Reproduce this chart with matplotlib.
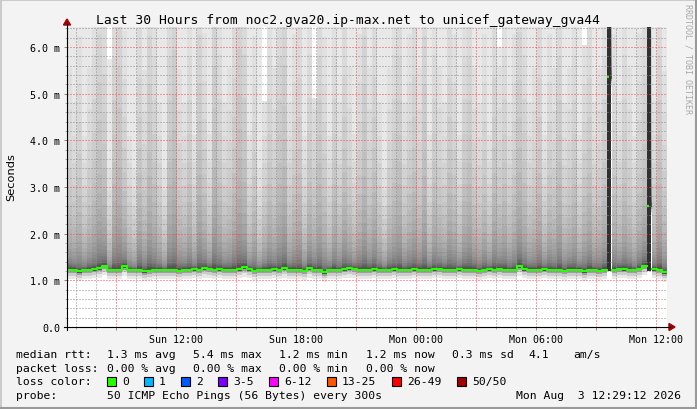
import numpy as np
import pandas as pd
import matplotlib
matplotlib.use('Agg')
import matplotlib.pyplot as plt
import matplotlib.dates as mdates
from matplotlib.ticker import MultipleLocator, FuncFormatter
from matplotlib.patches import Rectangle, Polygon
from matplotlib.lines import Line2D

W, H = 697, 410

# 30 hours in 15 minute columns
times = pd.date_range('2026-08-02 06:33', periods=120, freq='15min')
step = pd.Timedelta(minutes=15)

# median rtt per column (ms)
median_ms = [
    1.23, 1.23, 1.19, 1.22, 1.23, 1.24, 1.26, 1.31, 1.22, 1.23,
    1.22, 1.30, 1.22, 1.22, 1.23, 1.19, 1.21, 1.22, 1.23, 1.22,
    1.23, 1.22, 1.21, 1.23, 1.22, 1.24, 1.23, 1.26, 1.25, 1.23,
    1.24, 1.23, 1.22, 1.23, 1.24, 1.28, 1.24, 1.20, 1.22, 1.23,
    1.23, 1.24, 1.22, 1.26, 1.23, 1.23, 1.22, 1.21, 1.26, 1.23,
    1.22, 1.17, 1.22, 1.23, 1.22, 1.24, 1.26, 1.25, 1.23, 1.22,
    1.23, 1.24, 1.23, 1.22, 1.23, 1.24, 1.23, 1.22, 1.23, 1.24,
    1.23, 1.22, 1.23, 1.24, 1.25, 1.23, 1.22, 1.23, 1.24, 1.23,
    1.22, 1.23, 1.20, 1.23, 1.24, 1.23, 1.25, 1.23, 1.22, 1.23,
    1.30, 1.24, 1.23, 1.22, 1.23, 1.24, 1.23, 1.22, 1.23, 1.20,
    1.23, 1.22, 1.23, 1.19, 1.23, 1.22, 1.20, 1.23, 5.35, 1.23,
    1.25, 1.24, 1.23, 1.22, 1.25, 1.31, 2.60, 1.24, 1.23, 1.17,
]

# how far the dark smoke reaches above the median (ms)
spread_ms = [
    0.90, 0.75, 1.05, 0.60, 0.90, 1.20, 1.65, 1.35, 0.45, 1.50,
    1.80, 1.05, 0.60, 0.45, 1.35, 0.90, 1.65, 1.20, 0.75, 0.45,
    1.50, 1.95, 0.90, 0.75, 1.20, 0.60, 1.65, 1.05, 0.60, 1.80,
    1.20, 0.75, 0.90, 1.35, 1.95, 1.50, 0.60, 1.05, 0.45, 0.75,
    1.20, 0.90, 1.50, 1.80, 0.75, 1.05, 1.35, 0.60, 1.20, 0.90,
    1.50, 1.05, 0.60, 1.20, 0.75, 1.35, 0.90, 0.60, 1.05, 1.65,
    0.90, 1.35, 0.75, 0.45, 0.90, 1.20, 1.50, 0.75, 1.05, 1.35,
    0.90, 1.65, 0.60, 1.20, 0.90, 0.75, 1.35, 1.05, 0.60, 1.20,
    1.50, 0.90, 0.75, 1.05, 0.60, 1.35, 0.90, 1.20, 0.75, 1.05,
    1.65, 1.20, 0.75, 0.90, 1.35, 0.60, 1.05, 0.90, 1.50, 0.75,
    0.90, 1.20, 0.60, 1.05, 1.35, 0.75, 0.90, 1.20, 1.20, 1.05,
    0.75, 1.20, 0.90, 0.60, 1.05, 1.35, 1.20, 0.75, 1.50, 0.90,
]

# columns where the slowest ping stays below the top of the graph (ms)
smoke_gaps = {8: 5.75, 39: 4.85, 49: 4.9, 86: 6.0, 103: 6.05}

loss_labels = ['0', '1', '2', '3-5', '6-12', '13-25', '26-49', '50/50']
loss_colors = ['#26ff00', '#00b8ff', '#0059ff', '#7e00ff', '#ff00ff',
               '#ff5500', '#ff0000', '#a10000']

median = np.array(median_ms)
spread = np.array(spread_ms)
top = np.full(len(median), 6.6)
for i, v in smoke_gaps.items():
    top[i] = v
spike = median > 2

edges = list(times) + [times[-1] + step]


def ext(a):
    return np.append(a, a[-1])


plt.rcParams['font.family'] = 'DejaVu Sans Mono'
fig = plt.figure(figsize=(W / 100, H / 100), dpi=100, facecolor='#f3f3f3')
ax = fig.add_axes([67 / W, 82 / H, 600 / W, 300 / H])
ax.set_facecolor('white')

# smoke above median, many thin shades so no hard bands show
n_layers = 22
up_frac = np.concatenate([[0], np.geomspace(0.04, 4.8, n_layers)])
up_gray = np.linspace(0.33, 0.88, n_layers)
for k in range(n_layers):
    lo = np.minimum(median + spread * up_frac[k], top)
    hi = np.minimum(median + spread * up_frac[k + 1], top)
    ax.fill_between(edges, ext(lo), ext(hi), step='post', color=str(round(up_gray[k], 3)), lw=0)
lo = np.minimum(median + spread * up_frac[-1], top)
ax.fill_between(edges, ext(lo), ext(top), step='post', color='0.91', lw=0)

# smoke below median
low_frac = [0, 0.15, 0.35, 0.65, 1.0]
low_gray = [0.3, 0.62, 0.8, 0.91]
for k in range(len(low_gray)):
    a = median - 0.2 * low_frac[k]
    b = median - 0.2 * low_frac[k + 1]
    ax.fill_between(edges, ext(b), ext(a), step='post', color=str(low_gray[k]), lw=0)

# columns with very scattered pings
ax.bar(times[spike], 6.6 - 1.2, bottom=1.2, width=step * 0.8, align='edge',
       color='#303030', lw=0)

# median line
line = np.where(spike, np.nan, median)
ax.plot(edges, ext(line), drawstyle='steps-post', color=loss_colors[0],
        lw=1.5, zorder=4)
ax.hlines(median[spike], times[spike], times[spike] + step * 0.45,
          colors=loss_colors[0], lw=1.6, zorder=4)

ax.set_xlim(edges[0], edges[-1])
ax.set_ylim(0, 300 / 46.67)

ax.xaxis.set_major_locator(mdates.HourLocator(byhour=range(0, 24, 3)))
ax.xaxis.set_minor_locator(mdates.HourLocator())


def xlabel(v, pos):
    d = mdates.num2date(v)
    return d.strftime('%a %H:%M') if d.hour % 6 == 0 else ''


ax.xaxis.set_major_formatter(FuncFormatter(xlabel))
ax.yaxis.set_major_locator(MultipleLocator(1.0))
ax.yaxis.set_minor_locator(MultipleLocator(0.2))
ax.yaxis.set_major_formatter(FuncFormatter(lambda v, p: '0.0' if v == 0 else f'{v:.1f} m'))

ax.set_axisbelow(False)
ax.grid(which='major', color=(1, 0.25, 0.25, 0.3), linestyle=(0, (1, 2)), lw=0.72)
ax.grid(which='minor', color=(0.55, 0.55, 0.55, 0.45), linestyle=(0, (1, 2)), lw=0.72)
ax.tick_params(which='major', length=2.2, width=0.7, color='#888888',
               labelsize=7.2, pad=2.5)
ax.tick_params(which='minor', length=1.4, width=0.7, color='#aaaaaa')
for s in ax.spines.values():
    s.set_visible(False)


def px(x, y):
    return (x / W, 1 - y / H)


# axis lines and arrows
fig.add_artist(Line2D([64 / W, 670 / W], [1 - 328 / H] * 2, color='black', lw=0.8))
fig.add_artist(Line2D([67 / W] * 2, [1 - 331 / H, 1 - 25 / H], color='black', lw=0.8))
fig.add_artist(Polygon([px(669, 324.5), px(669, 331.5), px(675, 328)],
                       closed=True, color='#a00000', transform=fig.transFigure))
fig.add_artist(Polygon([px(63.5, 26), px(70.5, 26), px(67, 20)],
                       closed=True, color='#a00000', transform=fig.transFigure))

# border
fig.add_artist(Line2D([0, 1], [1 - 1 / H] * 2, color='#cbcbcb', lw=1.5))
fig.add_artist(Line2D([1 / W] * 2, [0, 1], color='#cbcbcb', lw=1.5))
fig.add_artist(Line2D([0, 1], [1 / H] * 2, color='#999999', lw=1.5))
fig.add_artist(Line2D([1 - 1 / W] * 2, [0, 1], color='#999999', lw=1.5))

fig.text(348.5 / W, 1 - 24 / H, 'Last 30 Hours from noc2.gva20.ip-max.net to unicef_gateway_gva44',
         ha='center', va='baseline', fontsize=9.4)
fig.text(11 / W, 1 - 177 / H, 'Seconds', rotation=90, ha='center', va='center',
         fontsize=8.2, family='DejaVu Sans')
fig.text(688 / W, 1 - 4 / H, 'RRDTOOL / TOBI OETIKER', rotation=270, ha='center',
         va='top', fontsize=6, color='#a8a8a8')

# legend
fs = 8.2
rows = [
    (358.5, [(16, 'median rtt:'), (107, '1.3 ms avg'), (193, '5.4 ms max'),
             (279, '1.2 ms min'), (366, '1.2 ms now'), (452, '0.3 ms sd'),
             (528, '4.1'), (573, 'am/s')]),
    (372, [(16, 'packet loss:'), (107, '0.00 % avg'), (193, '0.00 % max'),
           (279, '0.00 % min'), (366, '0.00 % now')]),
    (385.5, [(16, 'loss color:')]),
    (399, [(16, 'probe:'), (107, '50 ICMP Echo Pings (56 Bytes) every 300s')]),
]
for y, parts in rows:
    for x, t in parts:
        fig.text(x / W, 1 - y / H, t, ha='left', va='baseline', fontsize=fs)
fig.text(681 / W, 1 - 399 / H, 'Mon Aug  3 12:29:12 2026', ha='right',
         va='baseline', fontsize=fs)

x = 107
for lab, col in zip(loss_labels, loss_colors):
    fig.add_artist(Rectangle(px(x, 386.5), 9 / W, 9 / H, facecolor=col,
                             edgecolor='black', lw=0.8, transform=fig.transFigure))
    fig.text((x + 15) / W, 1 - 385.5 / H, lab, ha='left', va='baseline', fontsize=fs)
    x = x + 15 + 7 * len(lab) + 15

fig.savefig('out.png', dpi=100, facecolor=fig.get_facecolor())
